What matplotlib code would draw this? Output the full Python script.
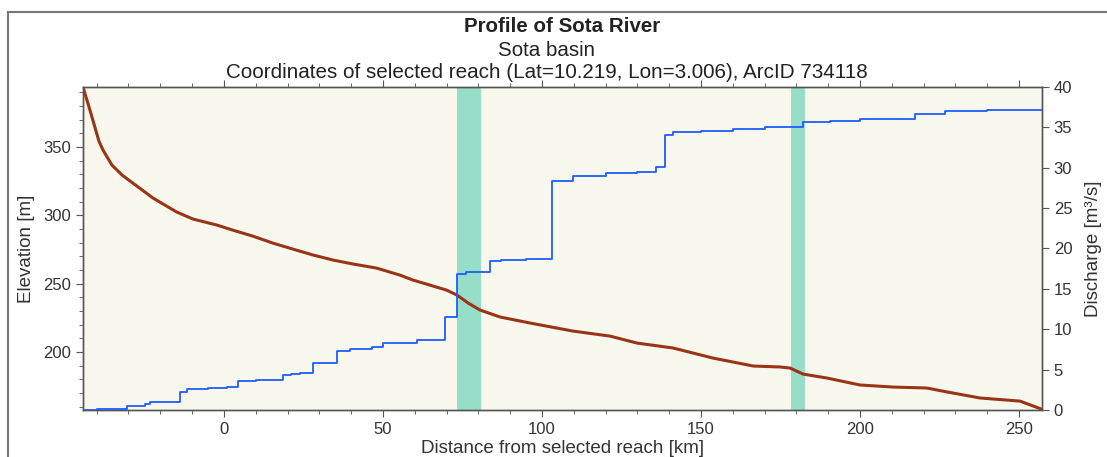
import matplotlib
matplotlib.use("Agg")
import matplotlib.pyplot as plt
from matplotlib.patches import Rectangle
from matplotlib.ticker import MultipleLocator

plt.rcParams['font.family'] = ['Liberation Sans', 'DejaVu Sans']

# elevation profile (km from selected reach, m)
dist_elev = [-44.3, -42.1, -39.3, -38.0, -35.2, -32.0, -28.6, -22.3, -14.8, -9.7, -2.2, 2.8, 9.1,
             15.4, 21.7, 28.0, 34.3, 40.6, 48.0, 55.3, 59.5, 70.0, 73.3, 77.0, 80.5, 86.8,
             96.2, 109.7, 121.4, 129.9, 141.2, 153.8, 166.4, 174.8, 178.0, 182.1,
             189.6, 200.0, 210.4, 221.0, 227.4, 237.7, 250.3, 257.2]
elevation = [394.0, 377.0, 354.4, 347.8, 336.8, 329.5, 323.6, 312.7, 302.4, 297.3, 292.9, 289.2, 284.8,
             279.7, 275.3, 271.0, 267.3, 264.4, 261.4, 256.3, 252.6, 245.3, 241.6, 235.5, 230.7, 225.6,
             221.2, 215.3, 211.6, 206.5, 202.9, 195.5, 189.7, 189.0, 188.2, 183.8,
             180.9, 175.8, 174.3, 173.6, 170.7, 166.3, 164.0, 158.0]

# discharge (step values, m3/s)
dist_q = [-44.3, -40.0, -30.5, -24.8, -23.3, -13.8, -11.6, -5.0, 1.0, 4.4, 10.0,
          18.6, 21.0, 23.9, 28.0, 35.5, 39.6, 46.5, 50.0, 60.6, 69.5, 73.3, 76.0,
          83.6, 87.0, 95.0, 103.1, 109.7, 120.0, 130.0, 136.0, 138.6, 141.2, 150.0,
          160.0, 170.0, 182.1, 190.6, 200.0, 217.3, 226.7, 240.0, 257.2]
discharge = [0.0, 0.1, 0.5, 0.7, 0.95, 2.2, 2.6, 2.7, 2.8, 3.6, 3.75,
             4.3, 4.45, 4.6, 5.8, 7.3, 7.55, 7.8, 8.25, 8.7, 11.5, 16.9, 17.1,
             18.4, 18.6, 18.75, 28.4, 29.0, 29.3, 29.45, 30.05, 34.1, 34.45, 34.6,
             34.85, 35.0, 35.7, 35.8, 36.0, 36.7, 37.0, 37.1, 37.2]

# highlighted reaches
bands = [(73.3, 80.8), (178.2, 182.7)]

fig = plt.figure(figsize=(11.07, 4.57), dpi=100)
fig.patches.append(Rectangle((8 / 1107, -0.1), 1.2, 0.1 + 1 - 12 / 457, transform=fig.transFigure,
                             fill=False, edgecolor='#777777', linewidth=1.5))

ax = fig.add_axes([83 / 1107, 1 - 410 / 457, (1042 - 83) / 1107, (410 - 87) / 457])
ax.set_facecolor('#f9f8ef')
for b0, b1 in bands:
    ax.axvspan(b0, b1, color='#96dec8', lw=0, zorder=1)
ax.plot(dist_elev, elevation, color='#9a3416', lw=2.2, zorder=3)
ax.set_xlim(-44.3, 257.2)
ax.set_ylim(157.5, 394)

ax2 = ax.twinx()
ax2.step(dist_q, discharge, where='post', color='#1f5cff', lw=1.3, zorder=4)
ax2.set_ylim(0, 40)

ax.xaxis.set_major_locator(MultipleLocator(50))
ax.xaxis.set_minor_locator(MultipleLocator(10))
ax.yaxis.set_major_locator(MultipleLocator(50))
ax.yaxis.set_minor_locator(MultipleLocator(10))
ax2.yaxis.set_major_locator(MultipleLocator(5))

gray = '#555555'
txt = '#333333'
for a in (ax, ax2):
    for s in a.spines.values():
        s.set_color(gray)
        s.set_linewidth(1.0)
ax.tick_params(axis='both', which='major', direction='out', length=5, color=gray,
               labelcolor=txt, labelsize=12, top=True)
ax.tick_params(axis='both', which='minor', direction='out', length=3, color=gray, top=True)
ax2.tick_params(axis='y', which='major', direction='out', length=5, color=gray,
                labelcolor=txt, labelsize=12)

ax.set_xlabel('Distance from selected reach [km]', fontsize=13.5, color=txt, labelpad=2)
ax.set_ylabel('Elevation [m]', fontsize=13.5, color=txt, labelpad=6)
ax2.set_ylabel('Discharge [m³/s]', fontsize=13.5, color=txt, labelpad=9)

fig.text(562.5 / 1107, 1 - 27 / 457, 'Profile of Sota River', ha='center', va='center',
         fontsize=14.8, fontweight='bold', color='#222222')
fig.text(546.5 / 1107, 1 - 50 / 457, 'Sota basin', ha='center', va='center', fontsize=14.8,
         color='#222222')
fig.text(546.5 / 1107, 1 - 72 / 457, 'Coordinates of selected reach (Lat=10.219, Lon=3.006), ArcID 734118',
         ha='center', va='center', fontsize=14.9, color='#222222')

fig.savefig('out.png', dpi=100)
